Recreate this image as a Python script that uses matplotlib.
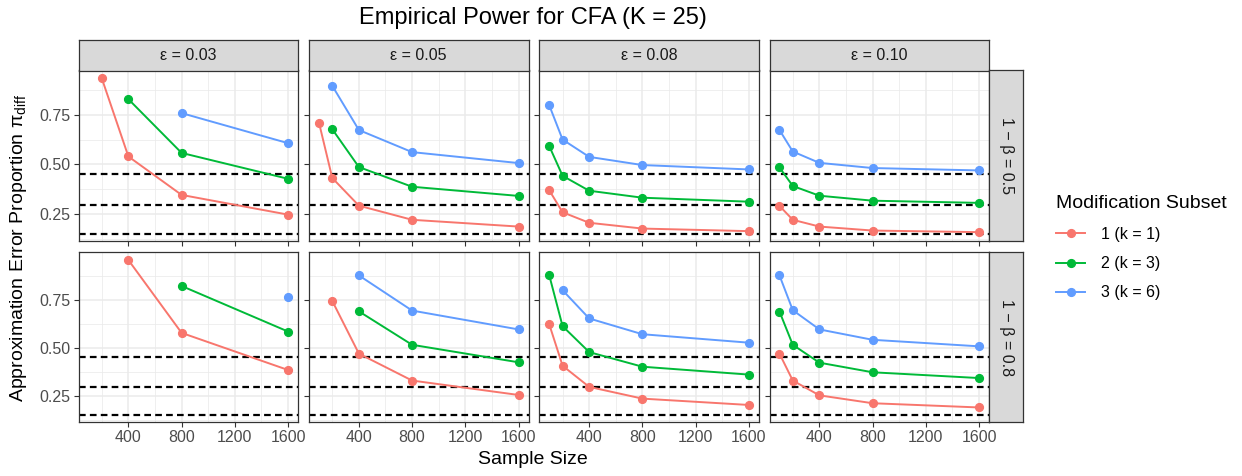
import matplotlib
matplotlib.use("Agg")
import matplotlib.pyplot as plt
from matplotlib.lines import Line2D
import numpy as np

plt.rcParams["font.family"] = ["Liberation Sans", "DejaVu Sans"]
plt.rcParams["mathtext.fontset"] = "custom"
plt.rcParams["mathtext.rm"] = "Liberation Sans"
plt.rcParams["mathtext.it"] = "Liberation Sans:italic"

nan = np.nan
sample_sizes = [100, 200, 400, 800, 1600]
eps_labels = ["ε = 0.03", "ε = 0.05", "ε = 0.08", "ε = 0.10"]
power_labels = ["1 − β = 0.5", "1 − β = 0.8"]
subset_labels = ["1 (k = 1)", "2 (k = 3)", "3 (k = 6)"]
cutoffs = [0.153, 0.294, 0.453]

# rows = epsilon, columns = sample size; nan where the run gave no estimate
pow50_k1 = [[nan, 0.933, 0.540, 0.347, 0.248],
            [0.710, 0.432, 0.293, 0.222, 0.188],
            [0.370, 0.260, 0.207, 0.178, 0.165],
            [0.292, 0.222, 0.188, 0.168, 0.160]]
pow50_k3 = [[nan, nan, 0.828, 0.558, 0.428],
            [nan, 0.677, 0.487, 0.388, 0.342],
            [0.592, 0.443, 0.368, 0.333, 0.313],
            [0.485, 0.392, 0.343, 0.318, 0.307]]
pow50_k6 = [[nan, nan, nan, 0.758, 0.607],
            [nan, 0.895, 0.673, 0.562, 0.507],
            [0.797, 0.625, 0.538, 0.497, 0.475],
            [0.673, 0.565, 0.508, 0.482, 0.470]]
pow80_k1 = [[nan, nan, 0.957, 0.578, 0.385],
            [nan, 0.744, 0.470, 0.330, 0.255],
            [0.622, 0.407, 0.297, 0.236, 0.203],
            [0.470, 0.330, 0.253, 0.212, 0.190]]
pow80_k3 = [[nan, nan, nan, 0.822, 0.585],
            [nan, nan, 0.690, 0.516, 0.425],
            [0.877, 0.613, 0.478, 0.402, 0.361],
            [0.689, 0.516, 0.423, 0.373, 0.343]]
pow80_k6 = [[nan, nan, nan, nan, 0.767],
            [nan, nan, 0.877, 0.694, 0.596],
            [nan, 0.800, 0.653, 0.571, 0.527],
            [0.877, 0.696, 0.596, 0.542, 0.508]]

rows = [[pow50_k1, pow50_k3, pow50_k6], [pow80_k1, pow80_k3, pow80_k6]]
colors = ["#F8766D", "#00BA38", "#619CFF"]

W, H = 1242, 476
BORDER = "#333333"
GRID = "#EBEBEB"
STRIP = "#D9D9D9"
TICKTXT = "#4D4D4D"

fig = plt.figure(figsize=(W / 100, H / 100), dpi=100)


def px_axes(x0, y0, x1, y1):
    return fig.add_axes([x0 / W, 1 - y1 / H, (x1 - x0) / W, (y1 - y0) / H])


def expand(lo, hi, mult=0.05):
    pad = (hi - lo) * mult
    return lo - pad, hi + pad


def strip_box(ax):
    ax.set_facecolor(STRIP)
    ax.set_xticks([])
    ax.set_yticks([])
    for s in ax.spines.values():
        s.set_color(BORDER)
        s.set_linewidth(0.9)


col_left = [78.5, 309.0, 539.3, 769.5]
panel_w = 219.5
row_top = [70.5, 252.3]
row_bot = [241.3, 422.3]
xlim = expand(min(sample_sizes), max(sample_sizes))

for r, series in enumerate(rows):
    vals = np.array(series, dtype=float)
    ylo = min(np.nanmin(vals), min(cutoffs))
    yhi = max(np.nanmax(vals), max(cutoffs))
    ylim = expand(ylo, yhi)
    for c in range(4):
        ax = px_axes(col_left[c], row_top[r], col_left[c] + panel_w, row_bot[r])
        ax.set_xlim(xlim)
        ax.set_ylim(ylim)
        ax.set_xticks([400, 800, 1200, 1600])
        ax.set_xticks([200, 600, 1000, 1400], minor=True)
        ax.set_yticks([0.25, 0.50, 0.75])
        ax.set_yticks([m for m in [0.125, 0.375, 0.625, 0.875] if ylim[0] < m < ylim[1]], minor=True)
        ax.grid(True, which="major", color=GRID, lw=1.1, zorder=0)
        ax.grid(True, which="minor", color=GRID, lw=0.55, zorder=0)
        ax.set_axisbelow(True)
        for s in ax.spines.values():
            s.set_color(BORDER)
            s.set_linewidth(0.9)
        ax.tick_params(which="major", direction="out", length=3.5, width=0.8, color=BORDER,
                       labelsize=11.5, labelcolor=TICKTXT, pad=2)
        ax.tick_params(which="minor", length=0)
        if r == 0:
            ax.tick_params(axis="x", labelbottom=False)
        if c > 0:
            ax.tick_params(axis="y", labelleft=False)
        ax.yaxis.set_major_formatter(plt.FuncFormatter(lambda v, p: f"{v:.2f}"))

        for y in cutoffs:
            ax.axhline(y, color="black", lw=1.6, ls=(0, (3.0, 1.9)), zorder=2)
        for k in range(3):
            ax.plot(sample_sizes, series[k][c], color=colors[k], lw=1.4,
                    marker="o", ms=5.6, zorder=3)

        if r == 0:
            sax = px_axes(col_left[c], 40, col_left[c] + panel_w, 70.5)
            strip_box(sax)
            sax.text(0.5, 0.5, eps_labels[c], ha="center", va="center",
                     fontsize=11.5, color="#1A1A1A", transform=sax.transAxes)

    rax = px_axes(989.3, row_top[r], 1023.3, row_bot[r])
    strip_box(rax)
    rax.text(0.5, 0.5, power_labels[r], ha="center", va="center", rotation=-90,
             fontsize=11.5, color="#1A1A1A", transform=rax.transAxes)

fig.text(533 / W, 1 - 18 / H, "Empirical Power for CFA (K = 25)", ha="center", va="center",
         fontsize=17)
fig.text(533 / W, 1 - 460 / H, "Sample Size", ha="center", va="center", fontsize=14)
fig.text(19 / W, 1 - 248 / H, r"Approximation Error Proportion π$_{\mathrm{diff}}$",
         ha="center", va="center", rotation=90, fontsize=14)

handles = [Line2D([0], [0], color=col, lw=1.4, marker="o", ms=5.6) for col in colors]
fig.legend(handles, subset_labels, title="Modification Subset", loc="upper left",
           bbox_to_anchor=(1042 / W, 1 - 181 / H), frameon=False, fontsize=11.5,
           title_fontsize=14, handlelength=1.8, labelspacing=0.9, handletextpad=1.0,
           alignment="left")

fig.savefig("out.png", dpi=100)
